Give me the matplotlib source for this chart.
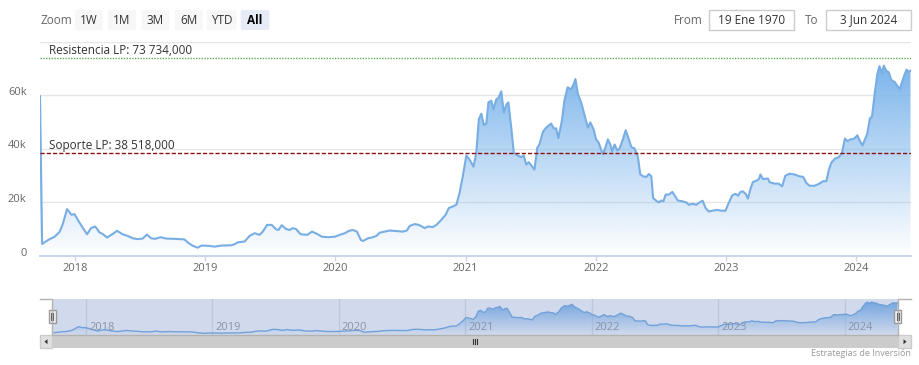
import numpy as np
import pandas as pd
import matplotlib
matplotlib.use("Agg")
import matplotlib.pyplot as plt
import matplotlib.dates as mdates
import matplotlib.transforms as mtransforms
from matplotlib.patches import Rectangle, FancyBboxPatch, Polygon

plt.rcParams['font.family'] = ['Open Sans', 'DejaVu Sans']

# weekly-ish closes (USD)
dates = [
    "2017-09-25", "2017-10-01", "2017-10-18", "2017-11-05", "2017-11-19", "2017-11-28",
    "2017-12-10", "2017-12-22", "2017-12-31", "2018-01-09", "2018-01-23", "2018-02-04",
    "2018-02-15", "2018-02-27", "2018-03-11", "2018-03-20", "2018-04-01", "2018-04-17",
    "2018-04-29", "2018-05-15", "2018-05-29", "2018-06-12", "2018-06-26", "2018-07-10",
    "2018-07-22", "2018-08-03", "2018-08-14", "2018-08-29", "2018-09-14", "2018-10-07",
    "2018-11-04", "2018-11-16", "2018-11-28", "2018-12-11", "2018-12-22", "2019-01-10",
    "2019-01-28", "2019-02-16", "2019-03-16", "2019-03-25", "2019-04-03", "2019-04-22",
    "2019-05-06", "2019-05-20", "2019-06-03", "2019-06-12", "2019-06-24", "2019-07-07",
    "2019-07-19", "2019-07-26", "2019-08-04", "2019-08-16", "2019-08-26", "2019-09-04",
    "2019-09-14", "2019-09-26", "2019-10-15", "2019-10-28", "2019-11-12", "2019-11-25",
    "2019-12-12", "2019-12-31", "2020-01-14", "2020-01-28", "2020-02-09", "2020-02-20",
    "2020-03-02", "2020-03-13", "2020-03-19", "2020-04-02", "2020-04-16", "2020-04-26",
    "2020-05-05", "2020-05-19", "2020-06-02", "2020-06-21", "2020-07-09", "2020-07-20",
    "2020-07-28", "2020-08-11", "2020-08-23", "2020-09-08", "2020-09-17", "2020-10-01",
    "2020-10-11", "2020-10-25", "2020-11-06", "2020-11-15", "2020-11-26", "2020-12-06",
    "2020-12-15", "2020-12-24", "2021-01-03", "2021-01-12", "2021-01-23", "2021-01-31",
    "2021-02-07", "2021-02-14", "2021-02-21", "2021-02-28", "2021-03-06", "2021-03-14",
    "2021-03-20", "2021-03-28", "2021-04-03", "2021-04-11", "2021-04-18", "2021-04-25",
    "2021-05-01", "2021-05-09", "2021-05-16", "2021-05-27", "2021-06-06", "2021-06-13",
    "2021-06-20", "2021-06-27", "2021-07-06", "2021-07-13", "2021-07-21", "2021-07-27",
    "2021-08-06", "2021-08-15", "2021-08-29", "2021-09-05", "2021-09-12", "2021-09-18",
    "2021-09-28", "2021-10-05", "2021-10-14", "2021-10-24", "2021-10-31", "2021-11-05",
    "2021-11-12", "2021-11-21", "2021-11-30", "2021-12-10", "2021-12-17", "2021-12-26",
    "2022-01-02", "2022-01-09", "2022-01-21", "2022-01-28", "2022-02-04", "2022-02-11",
    "2022-02-16", "2022-02-23", "2022-03-02", "2022-03-09", "2022-03-18", "2022-03-26",
    "2022-04-04", "2022-04-11", "2022-04-20", "2022-04-29", "2022-05-06", "2022-05-15",
    "2022-05-23", "2022-05-30", "2022-06-06", "2022-06-11", "2022-06-20", "2022-06-27",
    "2022-07-04", "2022-07-10", "2022-07-16", "2022-07-25", "2022-08-04", "2022-08-10",
    "2022-08-19", "2022-09-01", "2022-09-12", "2022-09-19", "2022-09-30", "2022-10-10",
    "2022-10-19", "2022-10-28", "2022-11-05", "2022-11-14", "2022-11-25", "2022-12-07",
    "2022-12-19", "2022-12-31", "2023-01-09", "2023-01-19", "2023-01-28", "2023-02-04",
    "2023-02-11", "2023-02-18", "2023-02-26", "2023-03-04", "2023-03-12", "2023-03-18",
    "2023-03-28", "2023-04-04", "2023-04-08", "2023-04-15", "2023-04-29", "2023-05-04",
    "2023-05-18", "2023-05-29", "2023-06-08", "2023-06-17", "2023-06-29", "2023-07-13",
    "2023-07-27", "2023-08-06", "2023-08-15", "2023-08-24", "2023-09-07", "2023-09-19",
    "2023-10-01", "2023-10-10", "2023-10-17", "2023-10-24", "2023-11-03", "2023-11-14",
    "2023-11-23", "2023-12-01", "2023-12-08", "2023-12-17", "2023-12-27", "2024-01-05",
    "2024-01-12", "2024-01-19", "2024-01-26", "2024-02-02", "2024-02-09", "2024-02-15",
    "2024-02-23", "2024-03-01", "2024-03-07", "2024-03-14", "2024-03-19", "2024-03-26",
    "2024-04-02", "2024-04-09", "2024-04-19", "2024-04-26", "2024-05-03", "2024-05-09",
    "2024-05-17", "2024-05-22", "2024-05-28", "2024-06-02",
]
prices = [
    59600, 4500, 6000, 7200, 9000, 12000,
    17500, 15400, 15600, 13500, 10500, 8100,
    10400, 11000, 8800, 8200, 6900, 8200,
    9400, 8100, 7500, 6600, 6300, 6500,
    8000, 6600, 6400, 7000, 6500, 6400,
    6200, 4800, 3800, 3100, 3900, 3800,
    3500, 3900, 4000, 4400, 5100, 5400,
    7500, 8500, 7900, 9100, 11600, 11600,
    10000, 9700, 11500, 10100, 9700, 10400,
    10000, 8100, 7900, 9100, 8200, 7200,
    7000, 7200, 7900, 8500, 9400, 9700,
    9100, 6000, 5600, 6600, 7000, 7500,
    8700, 9100, 9500, 9300, 9100, 9500,
    11200, 11900, 11600, 10400, 11000, 10800,
    11600, 13500, 15400, 17900, 18500, 19100,
    23500, 29700, 37500, 36000, 33300, 38500,
    51000, 53100, 48900, 49400, 57300, 57900,
    54700, 58500, 58900, 61400, 53500, 56400,
    57300, 47900, 38500, 37500, 36900, 37500,
    34100, 35000, 33500, 32200, 40400, 41600,
    46400, 47900, 49400, 47600, 47600, 43900,
    50400, 57900, 62900, 62200, 64100, 66000,
    60400, 57300, 52900, 47900, 49800, 47200,
    43500, 42300, 37900, 40400, 43500, 41600,
    39100, 41600, 39400, 40100, 43500, 46900,
    43500, 40600, 40100, 37200, 30400, 29700,
    29500, 30600, 29700, 21600, 20600, 20000,
    20700, 20400, 22900, 22900, 23900, 22600,
    20700, 20400, 20000, 19100, 19500, 19100,
    20000, 20600, 17900, 16600, 16900, 17200,
    16900, 16900, 19800, 22600, 23200, 22500,
    23900, 24100, 23100, 21400, 25400, 27600,
    28100, 28700, 30400, 28700, 28900, 27500,
    27000, 27000, 26000, 30000, 30700, 30400,
    29700, 29500, 27200, 26200, 26200, 26900,
    27900, 27900, 32200, 34800, 36300, 36900,
    38500, 43800, 42900, 43500, 43800, 45000,
    42900, 41200, 43500, 45700, 51300, 52000,
    61000, 67900, 70800, 68200, 71000, 69100,
    68500, 65700, 64800, 63500, 62200, 64800,
    67900, 69500, 68700, 69100,
]

years = [2018, 2019, 2020, 2021, 2022, 2023, 2024]
y_ticks = [0, 20000, 40000, 60000, 80000]
y_tick_labels = ['0', '20k', '40k', '60k', '']
resistance = 73734
support = 38518
zoom_buttons = ['1W', '1M', '3M', '6M', 'YTD', 'All']
date_from = '19 Ene 1970'
date_to = '3 Jun 2024'
credit = 'Estrategias de Inversión'

W, H = 919, 365
fig = plt.figure(figsize=(W / 100, H / 100), dpi=100)


def px_box(l, t, r, b):
    return [l / W, 1 - b / H, (r - l) / W, (b - t) / H]


def fmt(v):
    return f"{v:,.3f}".replace(',', ' ').replace('.', ',')


LINE = '#78aee3'
FILL = (124 / 255, 181 / 255, 236 / 255)
LABEL = '#666666'

x = mdates.date2num(pd.to_datetime(dates))
y = np.array(prices, dtype=float)
year_pos = mdates.date2num([pd.Timestamp(f'{yr}-01-01') for yr in years])


def gradient_area(a, xs, ys, lw):
    poly = a.fill_between(xs, ys, 0, facecolor='none', edgecolor='none')
    grad = np.zeros((256, 1, 4))
    grad[..., :3] = FILL
    grad[:, 0, 3] = np.linspace(0, 1, 256)
    im = a.imshow(grad, origin='lower', aspect='auto', interpolation='bilinear',
                  extent=[xs[0], xs[-1], 0, ys.max()], zorder=1)
    im.set_clip_path(poly.get_paths()[0], transform=a.transData)
    a.plot(xs, ys, color=LINE, lw=lw, zorder=2, solid_joinstyle='round')


# main chart
ax = fig.add_axes(px_box(40, 41.5, 910.5, 256))
gradient_area(ax, x, y, 1.5)
ax.set_xlim(x[0], x[-1])
ax.set_ylim(0, 80000)
ax.set_yticks(y_ticks, y_tick_labels)
ax.set_xticks(year_pos, [str(yr) for yr in years])
ax.grid(axis='y', color='#e6e6e6', lw=1)
ax.set_axisbelow(True)
for s in ['top', 'left', 'right']:
    ax.spines[s].set_visible(False)
ax.spines['bottom'].set_color('#ccd6eb')
ax.spines['bottom'].set_linewidth(1.5)
ax.tick_params(axis='y', length=0, pad=9.6, labelsize=8, labelcolor=LABEL)
ax.tick_params(axis='x', length=3.6, width=1, color='#ccd6eb', pad=1.5,
               labelsize=8, labelcolor=LABEL)
for lab in ax.get_yticklabels():
    lab.set_transform(lab.get_transform() +
                      mtransforms.ScaledTranslation(0, 4.5 / 100, fig.dpi_scale_trans))

ax.axhline(resistance, color='#5fa85f', lw=1, ls=(0, (1, 1)), zorder=3)
ax.axhline(support, color='#8b1010', lw=1, ls=(0, (3, 1.5)), zorder=3)
ax.annotate(f'Resistencia LP: {fmt(resistance)}', xy=(9 / 870.5, resistance),
            xycoords=('axes fraction', 'data'), xytext=(0, 3), textcoords='offset points',
            va='baseline', fontsize=8.5, color='#333333', zorder=4)
ax.annotate(f'Soporte LP: {fmt(support)}', xy=(9 / 870.5, support),
            xycoords=('axes fraction', 'data'), xytext=(0, 3), textcoords='offset points',
            va='baseline', fontsize=8.5, color='#333333', zorder=4)

# navigator
nav = fig.add_axes(px_box(52, 299, 897.5, 335))
gradient_area(nav, x[1:], y[1:], 1)
nav.set_xlim(x[0], x[-1])
nav.set_ylim(-500, 77500)
nav.set_xticks(year_pos)
nav.set_yticks([])
nav.tick_params(axis='x', length=0, labelbottom=False)
nav.grid(axis='x', color='#e6e6e6', lw=1)
nav.set_axisbelow(True)
for s in nav.spines.values():
    s.set_visible(False)
for xp, yr in zip(year_pos, years):
    nav.annotate(str(yr), xy=(xp, 0), xycoords=('data', 'axes fraction'),
                 xytext=(2.2, 5.3), textcoords='offset points', ha='left', va='center',
                 fontsize=8, color='#999999', zorder=3)
nav.add_patch(Rectangle((0, 0), 1, 1, transform=nav.transAxes,
                        facecolor=(102 / 255, 133 / 255, 194 / 255, 0.3),
                        edgecolor='none', zorder=5))

# overlay for range selector, navigator handles and scrollbar (pixel coords)
ui = fig.add_axes([0, 0, 1, 1], zorder=10)
ui.set_xlim(0, W)
ui.set_ylim(H, 0)
ui.axis('off')

ui.text(40.7, 20, 'Zoom', ha='left', va='center', fontsize=8.5, color=LABEL)
btn_left = [75, 108, 141.7, 175, 207, 240.7]
btn_width = [27.7, 28, 27.6, 27.7, 29.7, 28.6]
for name, bl, bw in zip(zoom_buttons, btn_left, btn_width):
    sel = name == 'All'
    ui.add_patch(FancyBboxPatch((bl, 10), bw, 20, boxstyle='round,pad=0,rounding_size=2',
                                fc='#e6ebf5' if sel else '#f7f7f7', ec='none'))
    ui.text(bl + bw / 2, 20, name, ha='center', va='center', fontsize=8.5,
            color='#000000' if sel else '#333333', fontweight='bold' if sel else 'normal')

ui.text(703, 20, 'From', ha='right', va='center', fontsize=8.5, color=LABEL)
ui.add_patch(Rectangle((709.3, 9.7), 85, 20.3, fc='white', ec='#cccccc', lw=1))
ui.text(751.8, 20, date_from, ha='center', va='center', fontsize=8.5, color='#333333')
ui.text(818, 20, 'To', ha='right', va='center', fontsize=8.5, color=LABEL)
ui.add_patch(Rectangle((825.7, 9.7), 85, 20.3, fc='white', ec='#cccccc', lw=1))
ui.text(868.2, 20, date_to, ha='center', va='center', fontsize=8.5, color='#333333')

ui.plot([40, 52, 52, 897.5, 897.5, 910.5], [299, 299, 335, 335, 299, 299],
        color='#b2b2b2', lw=1)
for hx in [52, 897.5]:
    ui.add_patch(Rectangle((hx - 3.5, 310), 7, 13, fc='#f2f2f2', ec='#999999', lw=1))
    ui.plot([hx - 1, hx - 1], [313, 320], color='#666666', lw=0.8)
    ui.plot([hx + 1, hx + 1], [313, 320], color='#666666', lw=0.8)

ui.add_patch(Rectangle((40, 335), 870.5, 13.3, fc='#cccccc', ec='none'))
ui.add_patch(Rectangle((40, 335), 12, 13.3, fc='#e0e0e0', ec='#cccccc', lw=1))
ui.add_patch(Rectangle((898, 335), 12.5, 13.3, fc='#e0e0e0', ec='#cccccc', lw=1))
ui.add_patch(Polygon([[44.5, 341.7], [47.5, 339.2], [47.5, 344.2]], fc='#333333', ec='none'))
ui.add_patch(Polygon([[906.5, 341.7], [903.5, 339.2], [903.5, 344.2]], fc='#333333', ec='none'))
for gx in [472.6, 474.8, 477]:
    ui.plot([gx, gx], [339.3, 344.3], color='#333333', lw=0.8)

ui.text(910.5, 354, credit, ha='right', va='center', fontsize=6.5, color='#999999')

fig.savefig('out.png', dpi=100)
